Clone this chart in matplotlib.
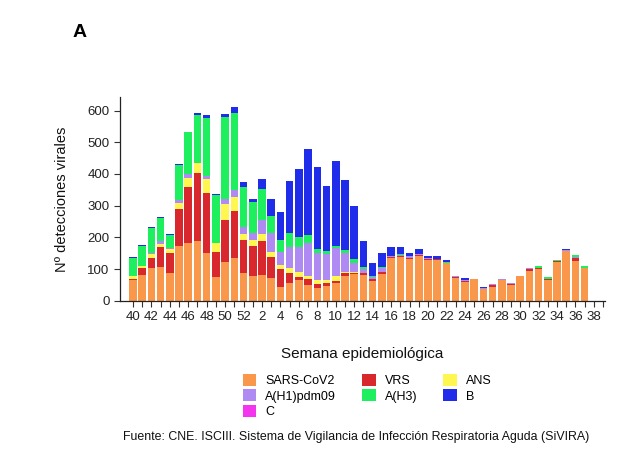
import matplotlib
matplotlib.use("Agg")
import matplotlib.pyplot as plt
import numpy as np
from matplotlib.patches import Patch

plt.rcParams['font.family'] = ['Liberation Sans', 'DejaVu Sans']

# semanas epidemiologicas (40..52, 1..39)
weeks = list(range(40, 53)) + list(range(1, 40))

# detecciones por virus, semanas 40..52 y 1..37
sars = [65, 81, 104, 107, 88, 174, 181, 189, 150, 74, 121, 134, 88,
        79, 82, 71, 42, 55, 65, 50, 41, 46, 55, 78, 84, 81, 62, 84, 134,
        139, 131, 141, 129, 129, 118, 73, 60, 67, 36, 44, 64, 50, 78, 95,
        101, 66, 121, 157, 125, 102]
vrs = [4, 21, 30, 62, 64, 116, 177, 215, 191, 81, 134, 150, 104,
       95, 106, 66, 57, 33, 11, 18, 12, 11, 8, 8, 4, 5, 6, 6, 3,
       3, 3, 2, 3, 2, 2, 2, 2, 0, 2, 6, 2, 3, 0, 5,
       3, 4, 3, 0, 9, 0]
ans = [8, 6, 12, 10, 10, 17, 29, 30, 42, 26, 50, 44, 18,
       19, 22, 18, 14, 14, 16, 10, 12, 8, 15, 6, 4, 2, 0, 0, 0,
       0, 0, 0, 0, 0, 0, 0, 0, 0, 0, 0, 0, 0, 0, 0,
       0, 0, 0, 0, 0, 0]
h1 = [1, 2, 6, 9, 3, 11, 13, 0, 11, 2, 15, 22, 24,
      22, 46, 60, 42, 67, 77, 103, 85, 82, 87, 60, 28, 12, 6, 14, 4,
      3, 7, 4, 2, 2, 0, 3, 3, 0, 1, 2, 1, 2, 1, 2,
      0, 0, 0, 2, 3, 0]
h3 = [58, 63, 77, 73, 43, 110, 131, 152, 182, 151, 259, 242, 126,
      98, 96, 52, 37, 46, 33, 26, 13, 10, 9, 8, 11, 7, 4, 2, 0,
      3, 0, 0, 0, 0, 3, 0, 0, 0, 0, 0, 0, 0, 0, 0,
      6, 6, 5, 0, 7, 8]
b = [1, 3, 3, 4, 4, 5, 3, 6, 9, 4, 11, 19, 16,
     8, 32, 54, 87, 164, 213, 272, 258, 205, 267, 221, 168, 82, 40, 44, 28,
     22, 9, 15, 8, 8, 6, 0, 6, 0, 5, 0, 0, 0, 0, 0,
     0, 0, 0, 5, 0, 0]
c = [0] * len(sars)

series = [("SARS-CoV2", sars, "#F9974A"),
          ("VRS", vrs, "#D8282E"),
          ("ANS", ans, "#FFF64F"),
          ("A(H1)pdm09", h1, "#AE8AF2"),
          ("A(H3)", h3, "#1EEF5E"),
          ("B", b, "#1F2DEB"),
          ("C", c, "#F435F0")]

fig = plt.figure(figsize=(6.25, 4.65), dpi=100)
ax = fig.add_axes([0.192, 0.3533, 0.776, 0.4375])

x = np.arange(len(sars))
bottom = np.zeros(len(sars))
for name, vals, col in series:
    vals = np.array(vals, dtype=float)
    ax.bar(x, vals, width=0.82, bottom=bottom, color=col, linewidth=0)
    bottom += vals

ax.set_xlim(-1.4, 51.2)
ax.set_ylim(0, 642)
ax.set_yticks(range(0, 700, 100))
ax.set_xticks(range(len(weeks)))
ax.set_xticklabels([str(w) if i % 2 == 0 else "" for i, w in enumerate(weeks)])
ax.tick_params(labelsize=9.5, length=4, width=0.8, color="#333333", labelcolor="#222222")
for s in ["top", "right"]:
    ax.spines[s].set_visible(False)
for s in ["left", "bottom"]:
    ax.spines[s].set_linewidth(0.9)
    ax.spines[s].set_color("#222222")

ax.set_xlabel("Semana epidemiológica", fontsize=11, labelpad=17, color="#111111")
ax.set_ylabel("Nº detecciones virales", fontsize=10.5, labelpad=13, color="#111111")

fig.text(0.128, 0.931, "A", fontsize=14, fontweight="bold", ha="center", va="center")

# legend in column order so it reads row by row like the original
order = ["SARS-CoV2", "A(H1)pdm09", "C", "VRS", "A(H3)", "ANS", "B"]
cols = {n: col for n, v, col in series}
handles = [Patch(facecolor=cols[n], edgecolor="none", label=n) for n in order]
fig.legend(handles=handles, loc="upper left", bbox_to_anchor=(0.378, 0.2095),
           ncol=3, frameon=False, fontsize=9, handlelength=1.1, handleheight=1.1,
           handletextpad=0.7, labelspacing=0.18, columnspacing=2.1, borderpad=0)

fig.text(0.57, 0.06, "Fuente: CNE. ISCIII. Sistema de Vigilancia de Infección Respiratoria Aguda (SiVIRA)",
         fontsize=8.9, ha="center", va="center", color="#111111")

fig.savefig("out.png", dpi=100)
